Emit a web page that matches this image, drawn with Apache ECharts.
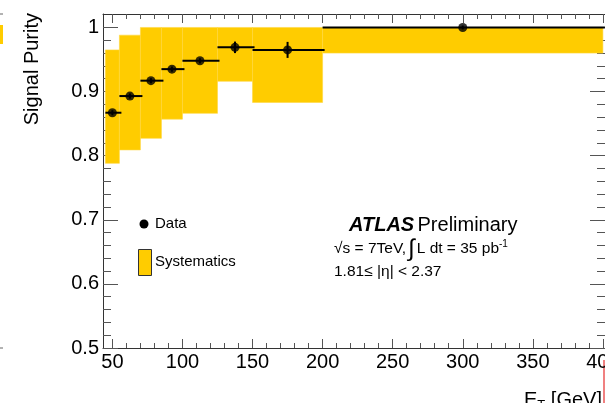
<!DOCTYPE html>
<html>
<head>
<meta charset="utf-8">
<script src="https://cdn.jsdelivr.net/npm/echarts@6/dist/echarts.min.js"></script>
<style>
  html, body { margin: 0; padding: 0; background: #fff; }
</style>
</head>
<body>
<div id="main" style="width: 605px;height:403px;"></div>
<script type="text/javascript">
// E_T bins [GeV]
var binLo = [45, 55, 70, 85, 100, 125, 150, 200];
var binHi = [55, 70, 85, 100, 125, 150, 200, 400];
var etCenter = [50, 62.5, 77.5, 92.5, 112.5, 137.5, 175, 300];
// signal purity and statistical error
var purity = [0.867, 0.893, 0.917, 0.935, 0.948, 0.969, 0.965, 1.0];
var statErr = [0.004, 0.004, 0.004, 0.004, 0.004, 0.009, 0.0125, 0.003];
// systematic band
var sysLo = [0.788, 0.809, 0.827, 0.857, 0.866, 0.916, 0.883, 0.960];
var sysHi = [0.965, 0.988, 1.0, 1.0, 1.0, 1.0, 1.0, 1.0];
// tick labels
var xTicks = [50, 100, 150, 200, 250, 300, 350, 400];
var xMinor = [50, 60, 70, 80, 90, 100, 110, 120, 130, 140, 150, 160, 170, 180, 190, 200,
  210, 220, 230, 240, 250, 260, 270, 280, 290, 300, 310, 320, 330, 340, 350, 360, 370, 380, 390, 400];
var yTicks = [0.5, 0.6, 0.7, 0.8, 0.9, 1.0];
var yMinor = [0.5, 0.52, 0.54, 0.56, 0.58, 0.6, 0.62, 0.64, 0.66, 0.68, 0.7, 0.72, 0.74, 0.76, 0.78,
  0.8, 0.82, 0.84, 0.86, 0.88, 0.9, 0.92, 0.94, 0.96, 0.98, 1.0];

var xMin = 43.3, xMax = 401.5;
var yMin = 0.5, yMax = 1.021;
var FONT = '"Liberation Sans", Arial, Helvetica, sans-serif';
var YELLOW = '#FFCC00';

var myChart = echarts.init(document.getElementById('main'));

function xAx(pos, vals, len, withLabel) {
  return {
    type: 'value', position: pos, min: xMin, max: xMax,
    splitLine: {show: false},
    axisLine: {show: withLabel !== null, onZero: false, lineStyle: {color: '#333', width: 1}},
    axisTick: {show: true, inside: true, length: len, customValues: vals, lineStyle: {color: '#555'}},
    axisLabel: withLabel ? {
      show: true, customValues: xTicks, margin: 4, color: '#000',
      fontFamily: FONT, fontSize: 20
    } : {show: false}
  };
}
function yAx(pos, vals, len, withLabel) {
  return {
    type: 'value', position: pos, min: yMin, max: yMax,
    splitLine: {show: false},
    axisLine: {show: withLabel !== null, onZero: false, lineStyle: {color: '#333', width: 1}},
    axisTick: {show: true, inside: true, length: len, customValues: vals, lineStyle: {color: '#555'}},
    axisLabel: withLabel ? {
      show: true, customValues: yTicks, margin: 4, color: '#000',
      fontFamily: FONT, fontSize: 20,
      formatter: function (v) { return String(Math.round(v * 10) / 10); }
    } : {show: false}
  };
}

var bandData = [];
var errData = [];
var pointData = [];
for (var i = 0; i < binLo.length; i++) {
  bandData.push([binLo[i], binHi[i], sysLo[i], sysHi[i]]);
  errData.push([binLo[i], binHi[i], etCenter[i], purity[i], statErr[i]]);
  pointData.push([etCenter[i], purity[i]]);
}

option = {
  animation: false,
  backgroundColor: '#fff',
  grid: {left: 103, right: 0, top: 14, bottom: 55, containLabel: false, outerBoundsMode: 'none'},
  xAxis: [
    xAx('bottom', xTicks, 9, true),
    xAx('bottom', xMinor, 5, null),
    xAx('top', xTicks, 9, false),
    xAx('top', xMinor, 5, null)
  ],
  yAxis: [
    yAx('left', yTicks, 15, true),
    yAx('left', yMinor, 8, null),
    yAx('right', yTicks, 15, false),
    yAx('right', yMinor, 8, null)
  ],
  series: [
    {
      name: 'Systematics',
      type: 'custom',
      data: bandData,
      z: 2,
      renderItem: function (params, api) {
        var p0 = api.coord([api.value(0), api.value(3)]);
        var p1 = api.coord([api.value(1), api.value(2)]);
        var shape = echarts.graphic.clipRectByRect({
          x: p0[0], y: p0[1], width: p1[0] - p0[0], height: p1[1] - p0[1]
        }, {
          x: params.coordSys.x, y: params.coordSys.y,
          width: params.coordSys.width + 2, height: params.coordSys.height
        });
        return shape && {
          type: 'rect', shape: shape,
          style: {fill: YELLOW, stroke: '#FFD740', lineWidth: 0.6}
        };
      }
    },
    {
      name: 'Data errors',
      type: 'custom',
      data: errData,
      z: 3,
      renderItem: function (params, api) {
        var y = api.value(3), e = api.value(4), xc = api.value(2);
        var a = api.coord([api.value(0), y]);
        var b = api.coord([Math.min(api.value(1), xMax), y]);
        var t = api.coord([xc, Math.min(y + e, yMax)]);
        var u = api.coord([xc, y - e]);
        var st = {stroke: '#000', lineWidth: 2};
        return {
          type: 'group',
          children: [
            {type: 'line', shape: {x1: a[0], y1: a[1], x2: b[0] + 2, y2: b[1]}, style: st},
            {type: 'line', shape: {x1: t[0], y1: t[1], x2: u[0], y2: u[1]}, style: st}
          ]
        };
      }
    },
    {
      name: 'Data',
      type: 'scatter',
      data: pointData,
      z: 4,
      symbol: 'circle',
      symbolSize: 9,
      itemStyle: {color: '#000'}
    }
  ],
  graphic: [
    // axis titles
    {
      type: 'text', x: 32, y: 13, rotation: Math.PI / 2,
      style: {text: 'Signal Purity', fill: '#000', font: '20px ' + FONT, align: 'right', verticalAlign: 'middle'}
    },
    {
      type: 'text', x: 524, y: 390,
      style: {
        text: '{a|E}{s|T}{a| [GeV]}', fill: '#000', verticalAlign: 'top',
        rich: {
          a: {fontFamily: FONT, fontSize: 20, fill: '#000', verticalAlign: 'top'},
          s: {fontFamily: FONT, fontSize: 13, fill: '#000', padding: [9, 0, 0, 0]}
        }
      }
    },
    // legend
    {type: 'circle', shape: {cx: 144, cy: 224, r: 4.5}, style: {fill: '#000'}},
    {type: 'text', x: 155, y: 224, style: {text: 'Data', fill: '#000', font: '15px ' + FONT, verticalAlign: 'middle'}},
    {type: 'rect', shape: {x: 138.5, y: 249.5, width: 13, height: 26}, style: {fill: YELLOW, stroke: '#333', lineWidth: 1}},
    {type: 'text', x: 155, y: 262, style: {text: 'Systematics', fill: '#000', font: '15px ' + FONT, verticalAlign: 'middle'}},
    // ATLAS label
    {
      type: 'text', x: 349, y: 225,
      style: {
        text: '{b|ATLAS} {n|Preliminary}', verticalAlign: 'middle',
        rich: {
          b: {fontFamily: FONT, fontSize: 20, fontWeight: 'bold', fontStyle: 'italic', fill: '#000'},
          n: {fontFamily: FONT, fontSize: 20, fill: '#000'}
        }
      }
    },
    {
      type: 'text', x: 334, y: 249,
      style: {
        text: '{t|\u221As = 7TeV,}{i|\u222B}{t|L dt = 35 pb}{u|-1}', verticalAlign: 'middle',
        rich: {
          t: {fontFamily: FONT, fontSize: 15.5, fill: '#000'},
          i: {fontFamily: FONT, fontSize: 24, fill: '#000', padding: [0, 2, 0, 2]},
          u: {fontFamily: FONT, fontSize: 10, fill: '#000', padding: [0, 0, 10, 0]}
        }
      }
    },
    {
      type: 'text', x: 334, y: 272,
      style: {text: '1.81\u2264 |\u03B7| < 2.37', fill: '#000', font: '15.5px ' + FONT, verticalAlign: 'middle'}
    },
    // edge remnants of the neighbouring panels
    {type: 'rect', shape: {x: 0, y: 25, width: 3, height: 19}, style: {fill: YELLOW}},
    {type: 'line', shape: {x1: 0, y1: 14, x2: 3, y2: 14}, style: {stroke: '#666', lineWidth: 1}},
    {type: 'line', shape: {x1: 0, y1: 348, x2: 3, y2: 348}, style: {stroke: '#666', lineWidth: 1}},
    {type: 'rect', shape: {x: 603, y: 360, width: 2, height: 43}, style: {fill: '#F08080'}}
  ]
};

myChart.setOption(option);
</script>
</body>
</html>
